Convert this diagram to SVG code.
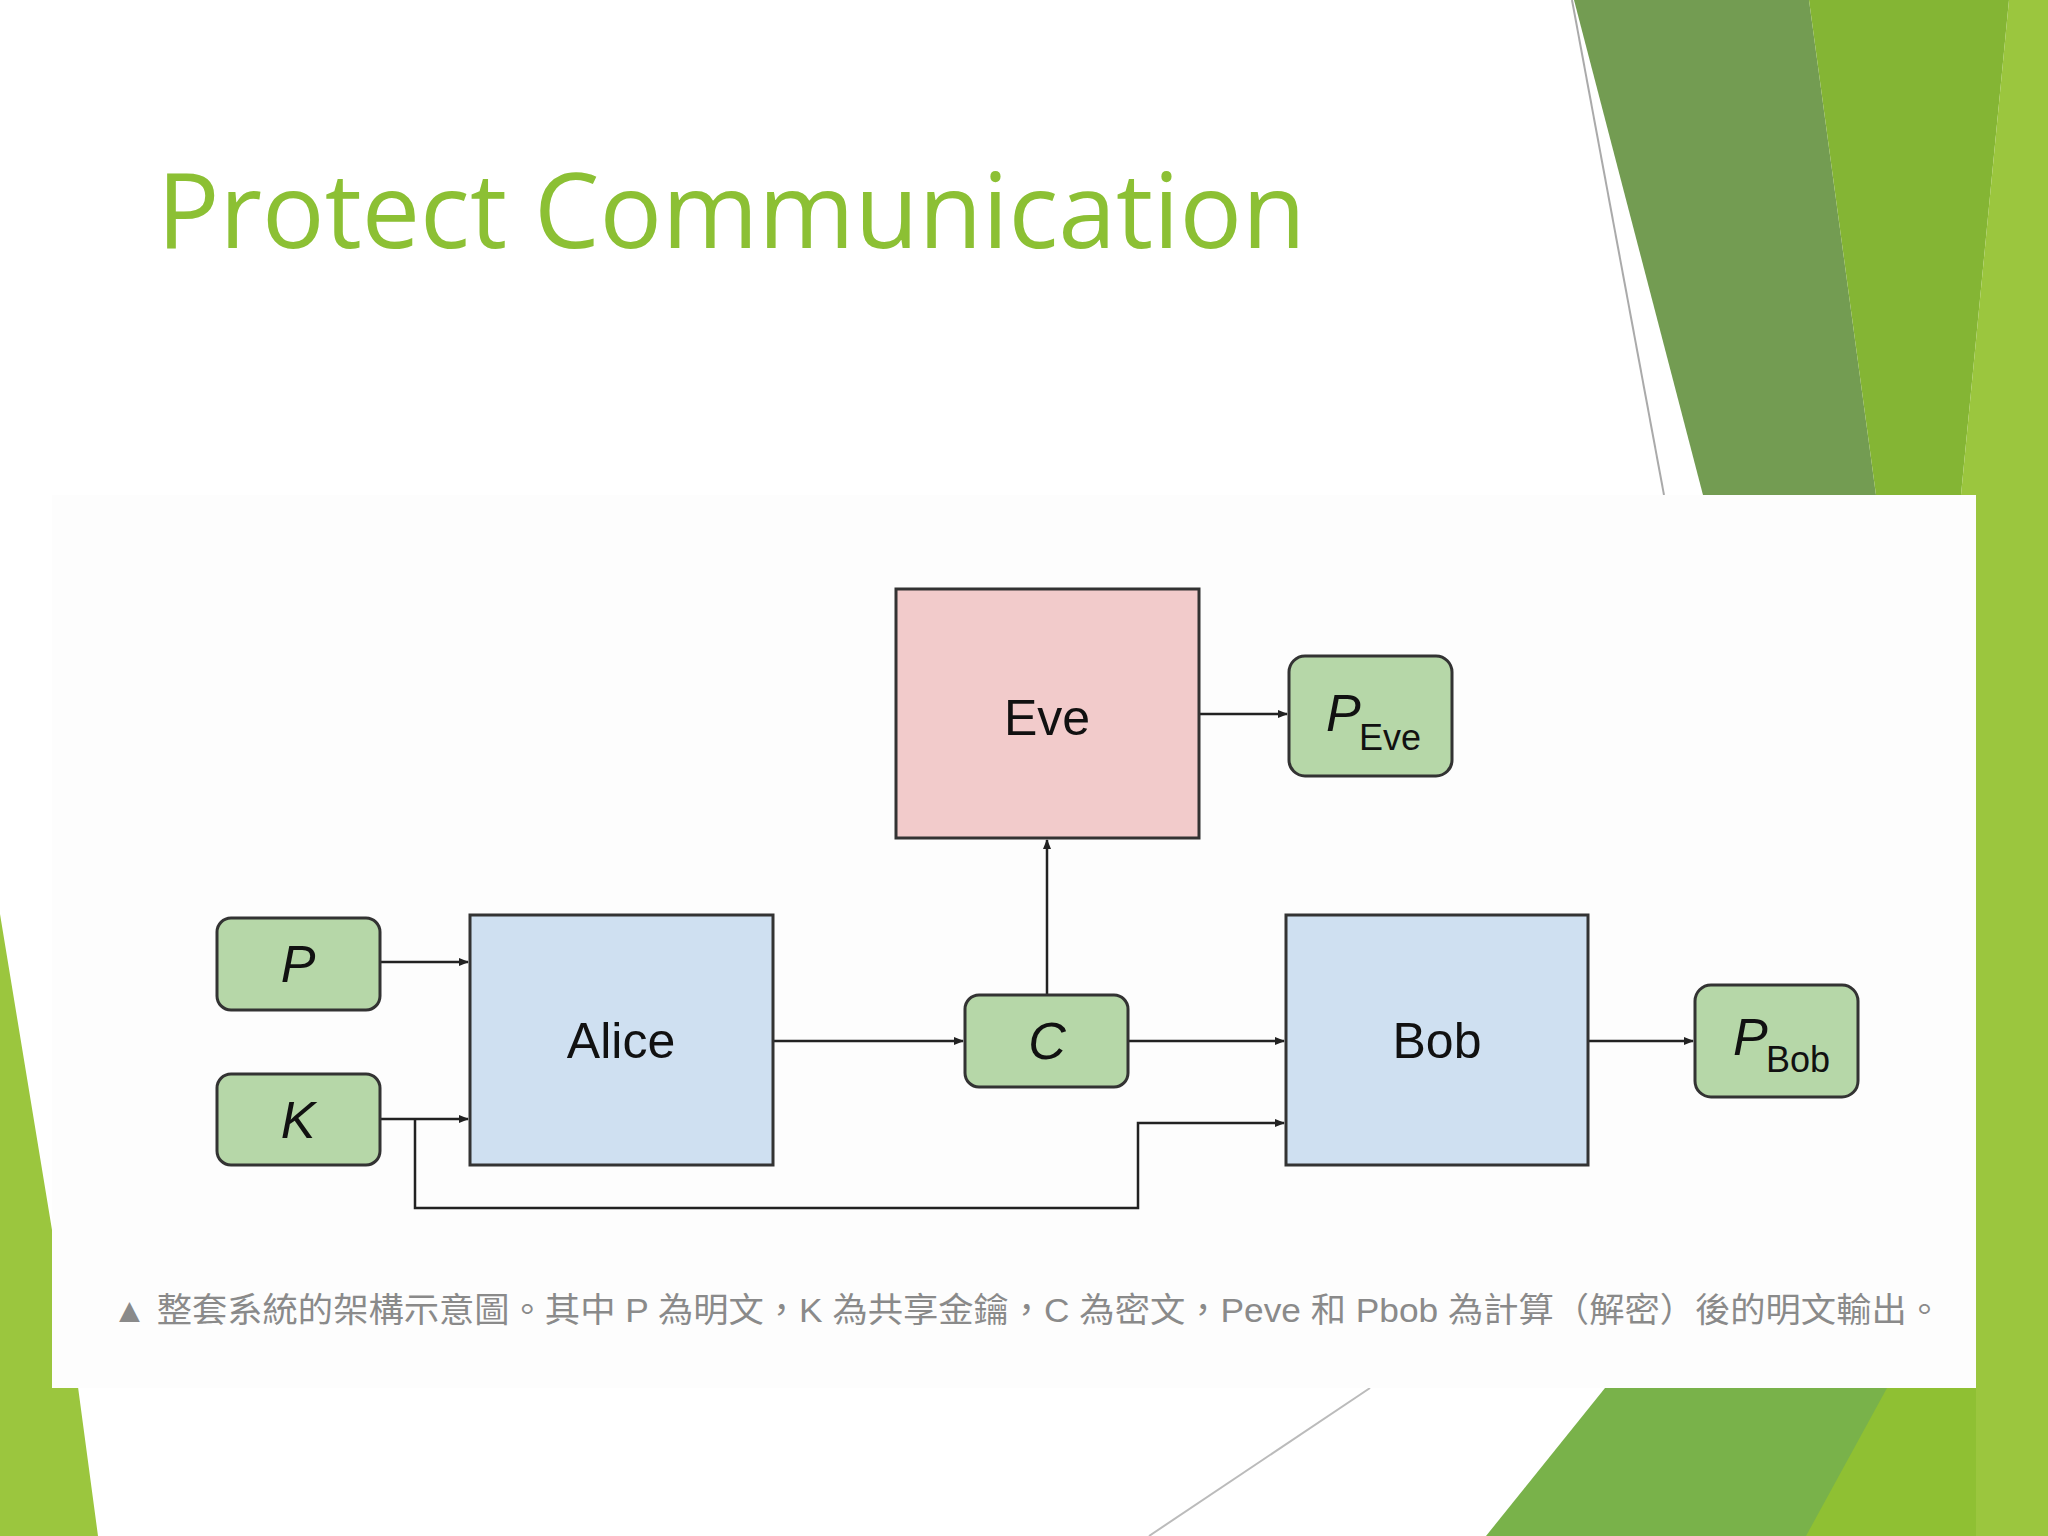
<svg xmlns="http://www.w3.org/2000/svg" width="2048" height="1536" viewBox="0 0 2048 1536">
<style>
.lbl{font-family:"Liberation Sans",Arial,sans-serif;fill:#111;}
.box{stroke:#333;stroke-width:3;}
.g{fill:#b6d7a8;stroke:#333;stroke-width:3;}
.ln{fill:none;stroke:#222;stroke-width:2.5;}
</style>
<defs>
<marker id="ah" markerWidth="10" markerHeight="8" refX="9" refY="4" orient="auto" markerUnits="userSpaceOnUse">
<path d="M0,0 L10,4 L0,8 z" fill="#222"/>
</marker>
</defs>
<rect width="2048" height="1536" fill="#ffffff"/>
<!-- decorative background -->
<polygon points="1574,0 1809,0 1876,495 1703,495" fill="#739c52"/>
<polygon points="1809,0 2009,0 1961,495 1876,495" fill="#84b534"/>
<polygon points="2009,0 2048,0 2048,1536 1976,1536 1976,495 1961,495" fill="#9bc63e"/>
<line x1="1572" y1="0" x2="1664" y2="495" stroke="#aaa" stroke-width="2"/>
<polygon points="0,914 52,1230 52,1387 78,1387 98,1536 0,1536" fill="#9bc63e"/>
<polygon points="1605,1388 1976,1388 1976,1536 1486,1536" fill="#79b24a"/>
<polygon points="1887,1388 1976,1388 1976,1536 1806,1536" fill="#8fc033"/>
<line x1="1370" y1="1388" x2="1149" y2="1536" stroke="#bbb" stroke-width="2"/>
<text x="157" y="248" font-family="'Open Sans','Noto Sans',sans-serif" font-size="104" fill="#8cc034">Protect Communication</text>
<rect x="52" y="495" width="1924" height="893" fill="#fdfdfd"/>
<g id="connectors">
<line class="ln" x1="380" y1="962" x2="468" y2="962" marker-end="url(#ah)"/>
<line class="ln" x1="380" y1="1119" x2="468" y2="1119" marker-end="url(#ah)"/>
<polyline class="ln" points="415,1119 415,1208 1138,1208 1138,1123 1284,1123" marker-end="url(#ah)"/>
<line class="ln" x1="773" y1="1041" x2="963" y2="1041" marker-end="url(#ah)"/>
<line class="ln" x1="1128" y1="1041" x2="1284" y2="1041" marker-end="url(#ah)"/>
<line class="ln" x1="1588" y1="1041" x2="1693" y2="1041" marker-end="url(#ah)"/>
<line class="ln" x1="1047" y1="995" x2="1047" y2="840" marker-end="url(#ah)"/>
<line class="ln" x1="1199" y1="714" x2="1287" y2="714" marker-end="url(#ah)"/>
</g>
<g id="P"><rect class="g" x="217" y="918" width="163" height="92" rx="14"/><text class="lbl" x="298" y="982" font-size="52" font-style="italic" text-anchor="middle">P</text></g>
<g id="K"><rect class="g" x="217" y="1074" width="163" height="91" rx="14"/><text class="lbl" x="298" y="1138" font-size="52" font-style="italic" text-anchor="middle">K</text></g>
<g id="Alice"><rect class="box" x="470" y="915" width="303" height="250" fill="#cfe0f1"/><text class="lbl" x="621" y="1058" font-size="50" text-anchor="middle">Alice</text></g>
<g id="C"><rect class="g" x="965" y="995" width="163" height="92" rx="14"/><text class="lbl" x="1047" y="1059" font-size="52" font-style="italic" text-anchor="middle">C</text></g>
<g id="Bob"><rect class="box" x="1286" y="915" width="302" height="250" fill="#cfe0f1"/><text class="lbl" x="1437" y="1058" font-size="50" text-anchor="middle">Bob</text></g>
<g id="Eve"><rect class="box" x="896" y="589" width="303" height="249" fill="#f2cbcb"/><text class="lbl" x="1047" y="735" font-size="50" text-anchor="middle">Eve</text></g>
<g id="PEve"><rect class="g" x="1289" y="656" width="163" height="120" rx="16"/><text class="lbl" x="1326" y="731" font-size="52" font-style="italic">P</text><text class="lbl" x="1359" y="750" font-size="36">Eve</text></g>
<g id="PBob"><rect class="g" x="1695" y="985" width="163" height="112" rx="16"/><text class="lbl" x="1733" y="1055" font-size="52" font-style="italic">P</text><text class="lbl" x="1766" y="1072" font-size="36">Bob</text></g>
<text x="112" y="1322" font-family="'Liberation Sans','Noto Sans CJK TC',sans-serif" font-size="34" fill="#8a8a8a" textLength="1830" lengthAdjust="spacingAndGlyphs">▲ 整套系統的架構示意圖。其中 P 為明文，K 為共享金鑰，C 為密文，Peve 和 Pbob 為計算（解密）後的明文輸出。</text>
</svg>
